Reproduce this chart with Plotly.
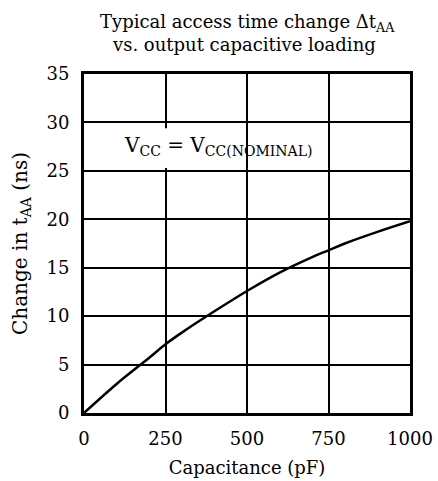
import plotly.graph_objects as go

capacitance_pf = [0, 100, 200, 250, 300, 400, 500, 600, 700, 750, 800, 900, 1000]
delta_taa_ns = [0, 3.0, 5.7, 7.1, 8.3, 10.5, 12.6, 14.5, 16.1, 16.8, 17.5, 18.7, 19.8]
x_ticks = [0, 250, 500, 750, 1000]
y_ticks = [0, 5, 10, 15, 20, 25, 30, 35]

FONT = "DejaVu Serif"

fig = go.Figure()
fig.add_trace(go.Scatter(x=capacitance_pf, y=delta_taa_ns, mode="lines",
                         line=dict(color="black", width=2.5, shape="spline"),
                         showlegend=False, hoverinfo="skip"))

fig.add_shape(type="rect", xref="x", yref="y", x0=240, x1=262, y0=25.3, y1=29.4,
              fillcolor="white", line=dict(width=0), layer="above")
fig.add_annotation(x=0.41, y=27.6, xref="x domain", yref="y",
                   text="V<sub>CC</sub> = V<sub>CC(NOMINAL)</sub>",
                   showarrow=False, font=dict(family=FONT, size=20, color="black"))

# title as two explicitly placed lines (paper y: 0 at plot bottom, 1 at plot top)
fig.add_annotation(x=0.5, xref="x domain", yref="paper", yanchor="middle",
                   y=(413 - 23) / 339,
                   text="Typical access time change Δt<sub>AA</sub>", showarrow=False,
                   font=dict(family=FONT, size=18, color="black"))
fig.add_annotation(x=0.49, xref="x domain", yref="paper", yanchor="middle",
                   y=(413 - 44) / 339,
                   text="vs. output capacitive loading", showarrow=False,
                   font=dict(family=FONT, size=18, color="black"))

fig.update_layout(
    width=438, height=481, autosize=False,
    margin=dict(l=84, r=28, t=74, b=68, autoexpand=False),
    paper_bgcolor="white", plot_bgcolor="white",
    font=dict(family=FONT, size=18, color="black"),
)
fig.update_xaxes(range=[0, 1000], tickvals=x_ticks, ticklabelstandoff=7, automargin=False,
                 showgrid=True, gridcolor="black", gridwidth=2, zeroline=False,
                 showline=True, linecolor="black", linewidth=3, mirror=True, ticks="",
                 tickfont=dict(family=FONT, size=18, color="black"),
                 title=dict(text="Capacitance (pF)", standoff=14,
                            font=dict(family=FONT, size=18, color="black")))
fig.update_yaxes(range=[0, 35], tickvals=y_ticks, ticklabelstandoff=8, automargin=False,
                 showgrid=True, gridcolor="black", gridwidth=2, zeroline=False,
                 showline=True, linecolor="black", linewidth=3, mirror=True, ticks="",
                 tickfont=dict(family=FONT, size=18, color="black"),
                 title=dict(text="Change in t<sub>AA</sub> (ns)", standoff=14,
                            font=dict(family=FONT, size=20, color="black")))

fig.write_html("out.html", config={"displayModeBar": False},
               post_script="document.body.style.margin='0';")
